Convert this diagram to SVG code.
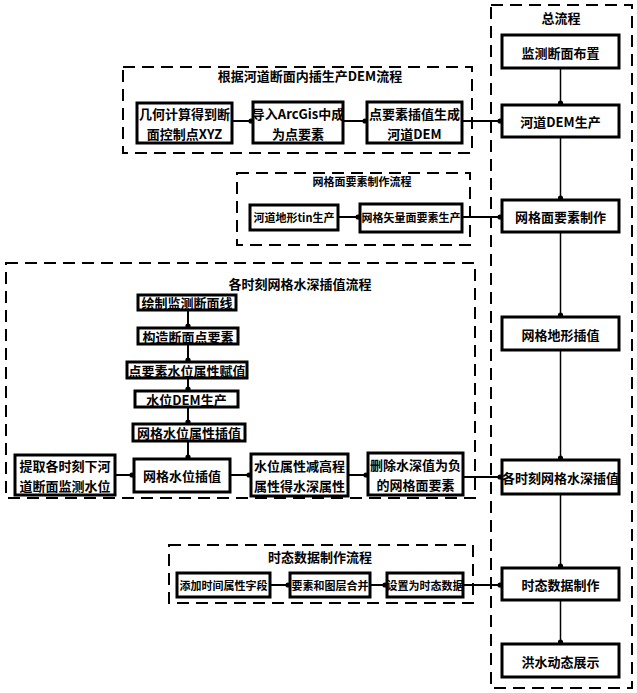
<svg xmlns="http://www.w3.org/2000/svg" width="637" height="693" viewBox="0 0 637 693">
<defs>
<style>
.dash{fill:none;stroke:#000;stroke-width:2;stroke-dasharray:12,7}
.box{fill:#fff;stroke:#000;stroke-width:3}
.t{font-family:"Noto Sans CJK SC","Noto Sans",sans-serif;font-weight:bold;fill:#000;text-anchor:middle;dominant-baseline:central;font-size:13px}
.s{font-size:11px}
.c{stroke:#000;stroke-width:2;fill:none;marker-end:url(#dot)}
.v{stroke:#000;stroke-width:1.5;fill:none;marker-end:url(#dot)}
</style>
<marker id="dot" viewBox="0 0 6 6" markerWidth="6" markerHeight="6" refX="4" refY="3" markerUnits="userSpaceOnUse" orient="auto"><circle cx="3" cy="3" r="2.6" fill="#000"/></marker>
</defs>
<rect width="637" height="693" fill="#fff"/>

<g id="groups">
<rect class="dash" x="491" y="5" width="141" height="683"/>
<text class="t" x="561" y="17">总流程</text>
<rect class="dash" x="123" y="67" width="349" height="86"/>
<text class="t" x="310" y="75">根据河道断面内插生产DEM流程</text>
<rect class="dash" x="237" y="173" width="233" height="72"/>
<text class="t s" x="362" y="181">网格面要素制作流程</text>
<rect class="dash" x="6" y="263" width="469" height="235"/>
<text class="t" x="300" y="283">各时刻网格水深插值流程</text>
<rect class="dash" x="169" y="545" width="304" height="58"/>
<text class="t" x="320" y="556">时态数据制作流程</text>
</g>

<g id="connectors">
<line class="v" x1="560.5" y1="68" x2="560.5" y2="104"/>
<line class="v" x1="560.5" y1="137" x2="560.5" y2="199"/>
<line class="v" x1="560.5" y1="232" x2="560.5" y2="316"/>
<line class="v" x1="560.5" y1="350" x2="560.5" y2="459"/>
<line class="v" x1="560.5" y1="494" x2="560.5" y2="567"/>
<line class="v" x1="560.5" y1="600" x2="560.5" y2="643"/>
<line class="c" x1="232" y1="121" x2="252" y2="121"/>
<line class="c" x1="343" y1="121" x2="366" y2="121"/>
<line class="c" x1="462" y1="121" x2="501" y2="121"/>
<line class="c" x1="338" y1="217" x2="359" y2="217"/>
<line class="c" x1="462" y1="217" x2="501" y2="217"/>
<line class="c" x1="188" y1="310" x2="188" y2="327"/>
<line class="c" x1="188" y1="344" x2="188" y2="361"/>
<line class="c" x1="188" y1="378" x2="188" y2="390"/>
<line class="c" x1="188" y1="407" x2="188" y2="423"/>
<line class="c" x1="188" y1="441" x2="188" y2="458"/>
<line class="c" x1="115" y1="475" x2="133" y2="475"/>
<line class="c" x1="230" y1="475" x2="250" y2="475"/>
<line class="c" x1="348" y1="475" x2="367" y2="475"/>
<line class="c" x1="463" y1="477" x2="501" y2="477"/>
<line class="c" x1="270" y1="585" x2="289" y2="585"/>
<line class="c" x1="370" y1="585" x2="386" y2="585"/>
<line class="c" x1="463" y1="585" x2="501" y2="585"/>
</g>

<g id="n-jcdmbz"><rect class="box" x="502" y="35" width="117" height="33"/><text class="t" x="560.5" y="52">监测断面布置</text></g>
<g id="n-hddem"><rect class="box" x="502" y="105" width="117" height="32"/><text class="t" x="560.5" y="121">河道DEM生产</text></g>
<g id="n-wgmys"><rect class="box" x="502" y="200" width="117" height="32"/><text class="t" x="560.5" y="216">网格面要素制作</text></g>
<g id="n-wgdx"><rect class="box" x="502" y="317" width="117" height="33"/><text class="t" x="560.5" y="334">网格地形插值</text></g>
<g id="n-gsk"><rect class="box" x="502" y="460" width="117" height="34"/><text class="t" x="560.5" y="477">各时刻网格水深插值</text></g>
<g id="n-sjsj"><rect class="box" x="502" y="568" width="117" height="32"/><text class="t" x="560.5" y="584">时态数据制作</text></g>
<g id="n-hszs"><rect class="box" x="502" y="644" width="117" height="33"/><text class="t" x="560.5" y="661">洪水动态展示</text></g>

<g id="n-jhjs"><rect class="box" x="137" y="103" width="95" height="40"/><text class="t" x="184.5" y="113">几何计算得到断</text><text class="t" x="184.5" y="133">面控制点XYZ</text></g>
<g id="n-drarc"><rect class="box" x="253" y="102" width="90" height="41"/><text class="t" x="298" y="113">导入ArcGis中成</text><text class="t" x="298" y="133">为点要素</text></g>
<g id="n-dysc"><rect class="box" x="367" y="102" width="95" height="41"/><text class="t" x="414.5" y="113">点要素插值生成</text><text class="t" x="414.5" y="133">河道DEM</text></g>

<g id="n-tin"><rect class="box" x="250" y="205" width="88" height="25"/><text class="t s" x="294" y="217">河道地形tin生产</text></g>
<g id="n-wgsl"><rect class="box" x="360" y="204" width="102" height="28"/><text class="t s" x="411" y="217">网格矢量面要素生产</text></g>

<g id="n-hzjc"><rect class="box" x="138" y="295" width="98" height="15"/><text class="t" x="187" y="302.5">绘制监测断面线</text></g>
<g id="n-gzdm"><rect class="box" x="138" y="328" width="100" height="16"/><text class="t" x="188" y="336">构造断面点要素</text></g>
<g id="n-dysw"><rect class="box" x="127" y="362" width="120" height="16"/><text class="t" x="187" y="370">点要素水位属性赋值</text></g>
<g id="n-swdem"><rect class="box" x="135" y="391" width="103" height="16"/><text class="t" x="186.5" y="399">水位DEM生产</text></g>
<g id="n-wgswsx"><rect class="box" x="133" y="424" width="112" height="17"/><text class="t" x="189" y="432.5">网格水位属性插值</text></g>
<g id="n-tqgs"><rect class="box" x="15" y="455" width="100" height="40"/><text class="t" x="65" y="465">提取各时刻下河</text><text class="t" x="65" y="485">道断面监测水位</text></g>
<g id="n-wgswcz"><rect class="box" x="134" y="459" width="96" height="33"/><text class="t" x="182" y="475.5">网格水位插值</text></g>
<g id="n-swsxj"><rect class="box" x="251" y="454" width="97" height="42"/><text class="t" x="299.5" y="465">水位属性减高程</text><text class="t" x="299.5" y="485">属性得水深属性</text></g>
<g id="n-scss"><rect class="box" x="368" y="453" width="95" height="42"/><text class="t" x="415.5" y="464">删除水深值为负</text><text class="t" x="415.5" y="484">的网格面要素</text></g>

<g id="n-tjsj"><rect class="box" x="177" y="573" width="93" height="24"/><text class="t s" x="223.5" y="585">添加时间属性字段</text></g>
<g id="n-ysht"><rect class="box" x="290" y="573" width="80" height="24"/><text class="t s" x="330" y="585">要素和图层合并</text></g>
<g id="n-szsj"><rect class="box" x="387" y="573" width="76" height="24"/><text class="t s" x="425" y="585">设置为时态数据</text></g>
</svg>
